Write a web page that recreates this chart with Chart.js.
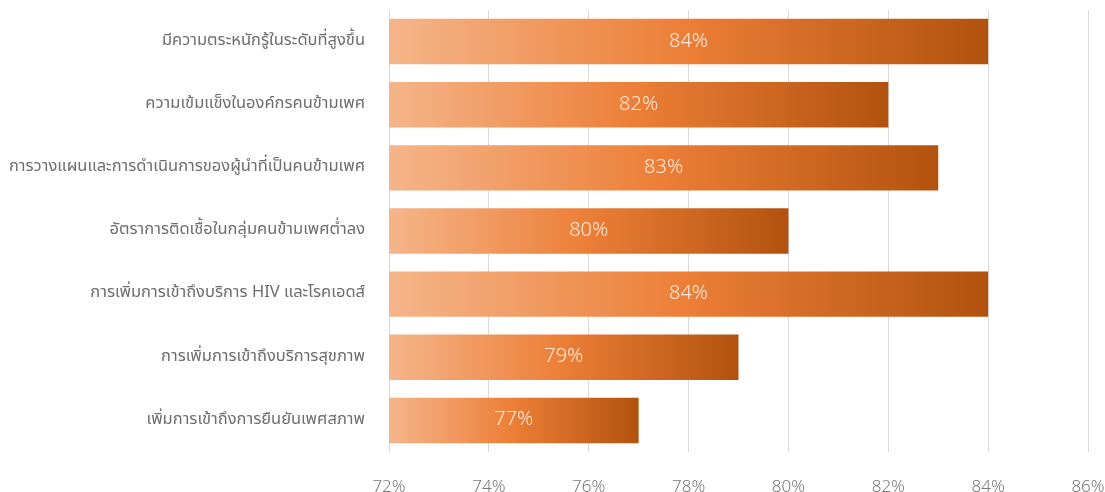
<!DOCTYPE html>
<html>
<head>
<meta charset="utf-8">
<script src="https://cdn.jsdelivr.net/npm/chart.js@4"></script>
<style>
  html, body { margin: 0; padding: 0; background: #fff; overflow: hidden; }
  .chart_box { width: 1105px; height: 492px; }
</style>
</head>
<body>
<div class="chart_box"><canvas id="chart"></canvas></div>
<script>
// Chart data
const categories = [
  "มีความตระหนักรู้ในระดับที่สูงขึ้น",
  "ความเข้มแข็งในองค์กรคนข้ามเพศ",
  "การวางแผนและการดำเนินการของผู้นำที่เป็นคนข้ามเพศ",
  "อัตราการติดเชื้อในกลุ่มคนข้ามเพศต่ำลง",
  "การเพิ่มการเข้าถึงบริการ HIV และโรคเอดส์",
  "การเพิ่มการเข้าถึงบริการสุขภาพ",
  "เพิ่มการเข้าถึงการยืนยันเพศสภาพ"
];
const values = [84, 82, 83, 80, 84, 79, 77];
const xTicks = [72, 74, 76, 78, 80, 82, 84, 86];

const fontFamily = "'Segoe UI', 'Noto Sans Thai', 'Open Sans', 'Noto Sans', sans-serif";

// Each bar gets its own gradient, light on the left, dark on the right
function barGradient(context) {
  const chart = context.chart;
  const area = chart.chartArea;
  if (!area) return "#ed7d31";
  const xScale = chart.scales.x;
  const x0 = xScale.getPixelForValue(xTicks[0]);
  const x1 = xScale.getPixelForValue(values[context.dataIndex]);
  const grad = chart.ctx.createLinearGradient(x0, 0, x1, 0);
  grad.addColorStop(0, "#f5b58a");
  grad.addColorStop(0.5, "#ec7e36");
  grad.addColorStop(1, "#b2520f");
  return grad;
}

// Draw the value labels in the middle of every bar
const valueLabels = {
  id: "valueLabels",
  afterDraw(chart) {
    const ctx = chart.ctx;
    const xScale = chart.scales.x;
    const yScale = chart.scales.y;
    ctx.save();
    ctx.font = "300 20px " + fontFamily;
    ctx.fillStyle = "#fdebdd";
    ctx.textAlign = "center";
    ctx.textBaseline = "middle";
    values.forEach((v, i) => {
      const mid = (xScale.getPixelForValue(xTicks[0]) + xScale.getPixelForValue(v)) / 2;
      ctx.fillText(v + "%", mid, yScale.getPixelForValue(i) + 1);
    });
    ctx.restore();
  }
};

new Chart(document.getElementById("chart"), {
  type: "bar",
  data: {
    labels: categories,
    datasets: [{
      data: values,
      backgroundColor: barGradient,
      borderWidth: 0,
      categoryPercentage: 1,
      barPercentage: 0.72
    }]
  },
  plugins: [valueLabels],
  options: {
    indexAxis: "y",
    responsive: true,
    maintainAspectRatio: false,
    animation: false,
    layout: { padding: { top: 10, right: 17, bottom: 0, left: 0 } },
    plugins: {
      legend: { display: false },
      tooltip: { enabled: false }
    },
    scales: {
      x: {
        min: 72,
        max: 86,
        afterBuildTicks: (scale) => {
          scale.ticks = xTicks.map(v => ({ value: v }));
        },
        afterFit: (scale) => {
          scale.height = 40;
          scale.paddingLeft = 0;
          scale.paddingRight = 0;
        },
        grid: { color: "#d9d9d9", drawTicks: false },
        border: { display: false },
        ticks: {
          padding: 26,
          color: "#7a7a7a",
          font: { family: fontFamily, size: 17, weight: 300 },
          callback: (v) => v + "%"
        }
      },
      y: {
        afterFit: (scale) => {
          scale.width = 389;
          scale.paddingTop = 0;
          scale.paddingBottom = 0;
        },
        grid: { display: false, drawTicks: false },
        border: { display: true, color: "#d9d9d9" },
        ticks: {
          padding: 24,
          color: "#6e6e6e",
          font: { family: fontFamily, size: 16.5 }
        }
      }
    }
  }
});
</script>
</body>
</html>
